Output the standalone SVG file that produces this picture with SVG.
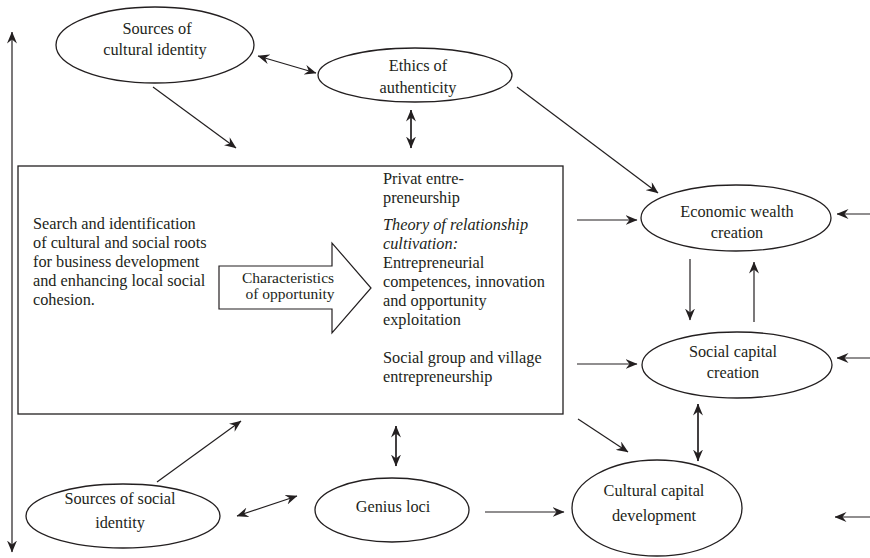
<svg xmlns="http://www.w3.org/2000/svg" width="870" height="558" viewBox="0 0 870 558">
<style>
text{font-family:"Liberation Serif","DejaVu Serif",serif;font-size:16.3px;fill:#231f20}
.c{text-anchor:middle}
.it{font-style:italic}
.s{font-size:15.5px}
.n{fill:#fff;stroke:#231f20;stroke-width:1.3}
.l{stroke:#231f20;stroke-width:1.2;fill:none;marker-end:url(#ah)}
.d{marker-start:url(#ah)}
.t{stroke-width:1.7}
</style>
<defs>
<marker id="ah" viewBox="0 0 12 10" refX="11.5" refY="5" markerWidth="12" markerHeight="10" markerUnits="userSpaceOnUse" orient="auto-start-reverse">
<path d="M0,0 L12,5 L0,10 L4,5 z" fill="#231f20"/>
</marker>
</defs>
<rect width="870" height="558" fill="#fff"/>
<g id="connectors">
<line class="l d" x1="12" y1="32" x2="12" y2="552"/>
<line class="l d" x1="258" y1="56" x2="316" y2="73"/>
<line class="l" x1="153" y1="87" x2="236" y2="148"/>
<line class="l d t" x1="411" y1="110" x2="411" y2="148"/>
<line class="l" x1="517" y1="87" x2="658" y2="193"/>
<line class="l" x1="577" y1="220" x2="637" y2="220"/>
<line class="l" x1="577" y1="364" x2="637" y2="364"/>
<line class="l d" x1="553" y1="197" x2="553" y2="260"/>
<line class="l d" x1="553" y1="332" x2="553" y2="401"/>
<line class="l" x1="690" y1="259" x2="690" y2="320"/>
<line class="l" x1="754" y1="322" x2="754" y2="262"/>
<line class="l" x1="870" y1="214" x2="837" y2="214"/>
<line class="l" x1="870" y1="358" x2="837" y2="358"/>
<line class="l" x1="870" y1="517" x2="835" y2="517"/>
<line class="l d t" x1="698" y1="404" x2="698" y2="461"/>
<line class="l" x1="578" y1="419" x2="628" y2="452"/>
<line class="l" x1="157" y1="482" x2="241" y2="421"/>
<line class="l d" x1="237" y1="516" x2="297" y2="496"/>
<line class="l d t" x1="396" y1="426" x2="396" y2="466"/>
<line class="l" x1="485" y1="512" x2="564" y2="512"/>
</g>
<g id="cultural-identity">
<ellipse class="n" cx="155" cy="45" rx="99" ry="38"/>
<text class="c" x="157" y="34">Sources of</text>
<text class="c" x="155" y="55">cultural identity</text>
</g>
<g id="ethics">
<ellipse class="n" cx="415" cy="75" rx="97" ry="27"/>
<text class="c" x="418" y="71">Ethics of</text>
<text class="c" x="418" y="93">authenticity</text>
</g>
<g id="main-box">
<rect x="18" y="166" width="545" height="248" fill="#fff" stroke="#231f20" stroke-width="1.3"/>
<text x="33" y="229">Search and identification</text>
<text x="33" y="248">of cultural and social roots</text>
<text x="33" y="267">for business development</text>
<text x="33" y="286">and enhancing local social</text>
<text x="33" y="305">cohesion.</text>
<text x="383" y="184">Privat entre-</text>
<text x="383" y="203">preneurship</text>
<text class="it" x="383" y="230">Theory of relationship</text>
<text class="it" x="383" y="249">cultivation:</text>
<text x="383" y="268">Entrepreneurial</text>
<text x="383" y="287">competences, innovation</text>
<text x="383" y="306">and opportunity</text>
<text x="383" y="325">exploitation</text>
<text x="383" y="363">Social group and village</text>
<text x="383" y="382">entrepreneurship</text>
</g>
<g id="opportunity-arrow">
<polygon points="219,266 332,266 332,243 371,288 332,333 332,309 219,309" fill="#fff" stroke="#231f20" stroke-width="1.2"/>
<text class="c s" x="288" y="283">Characteristics</text>
<text class="c s" x="290" y="299">of opportunity</text>
</g>
<g id="economic">
<ellipse class="n" cx="736" cy="218" rx="95" ry="33"/>
<text class="c" x="737" y="217">Economic wealth</text>
<text class="c" x="737" y="238">creation</text>
</g>
<g id="social-capital">
<ellipse class="n" cx="737" cy="365" rx="95" ry="33"/>
<text class="c" x="733" y="357">Social capital</text>
<text class="c" x="733" y="378">creation</text>
</g>
<g id="cultural-capital">
<ellipse class="n" cx="657" cy="508" rx="85" ry="48"/>
<text class="c" x="654" y="496">Cultural capital</text>
<text class="c" x="654" y="521">development</text>
</g>
<g id="social-identity">
<ellipse class="n" cx="123" cy="516" rx="97" ry="32"/>
<text class="c" x="120" y="504">Sources of social</text>
<text class="c" x="120" y="528">identity</text>
</g>
<g id="genius-loci">
<ellipse class="n" cx="392" cy="510" rx="77" ry="32"/>
<text class="c" x="393" y="512">Genius loci</text>
</g>
</svg>
